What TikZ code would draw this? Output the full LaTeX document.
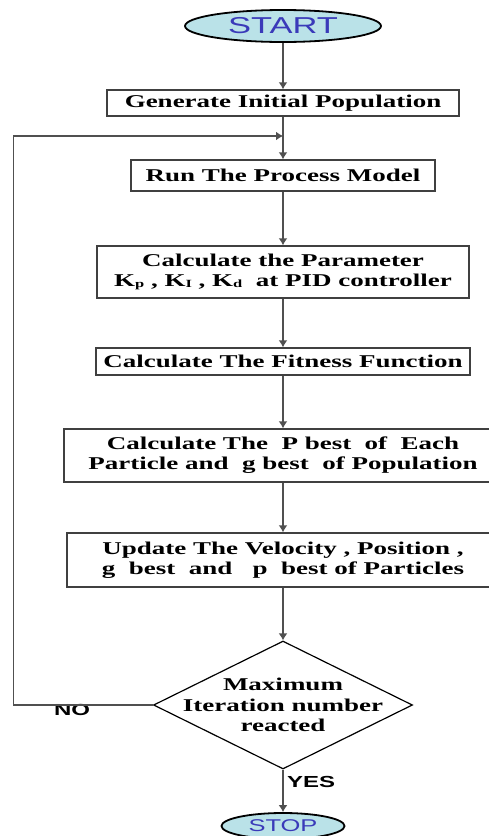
\documentclass[tikz,border=0pt]{standalone}
\usepackage{fontspec}
\usepackage{tikz}
\usetikzlibrary{shapes.geometric, arrows.meta}
\setmainfont{Liberation Serif}[FakeStretch=1.5]
\newfontfamily\headfont{Liberation Sans}[FakeStretch=1.5]
\definecolor{tBlue}{RGB}{58,58,185}
\definecolor{tFill}{RGB}{186,226,232}
\definecolor{lGray}{RGB}{80,80,80}
\newcommand{\ksub}[1]{\raisebox{-1pt}{\fontsize{11}{11}\selectfont #1}}
\tikzstyle{proc}   = [rectangle, draw=black!75, line width=1.4pt, align=center,
font=\fontsize{18}{20}\selectfont\bfseries, inner sep=2pt]
\tikzstyle{term}   = [ellipse, draw=black, line width=1.8pt, fill=tFill, text=tBlue,
inner sep=0pt]
\tikzstyle{decide} = [diamond, draw=black, line width=1.2pt, inner sep=0pt,
minimum width=259pt, minimum height=128pt]
\tikzstyle{answer} = [font=\headfont\fontsize{16}{16}\selectfont\bfseries]
\tikzstyle{arrow}  = [-{Latex[length=7pt, width=9pt]}, draw=lGray, line width=1.4pt]

\begin{document}
\begin{tikzpicture}[node distance=60pt]
      \useasboundingbox (0,0) rectangle (489pt,-836pt);
      \node(Start) [term, minimum width=196pt, minimum height=32pt,
        font=\headfont\fontsize{23}{23}\selectfont] at (283pt,-26pt) {START};

      \node(Gen) [proc, minimum width=352pt, minimum height=26pt, yshift=-17pt, below of = Start]
        {Generate Initial Population};
      \node(Run) [proc, minimum width=304pt, minimum height=31pt, yshift=-12.5pt, below of = Gen]
        {Run The Process Model};
      \node(Par) [proc, minimum width=372pt, minimum height=52pt, yshift=-36.5pt, below of = Run]
        {Calculate the Parameter\\K\ksub{p} , K\ksub{I} , K\ksub{d}~ at PID controller};
      \node(Fit) [proc, minimum width=374pt, minimum height=27pt, yshift=-29.5pt, below of = Par]
        {Calculate The Fitness Function};
      \node(Best)[proc, minimum width=438pt, minimum height=53pt, yshift=-34pt, below of = Fit]
        {Calculate The~ P best~ of~ Each\\Particle and~ g best~ of Population};
      \node(Upd) [proc, minimum width=432pt, minimum height=54pt, yshift=-44.5pt, below of = Best]
        {Update The Velocity , Position ,\\g~ best~ and~~ p~ best of Particles};

      \node(Dec) [decide, yshift=-85pt, below of = Upd,
        label={[align=center, font=\fontsize{18}{20.5}\selectfont\bfseries]center:Maximum\\Iteration number\\reacted}] {};

      \node(Stop)[term, minimum width=123pt, minimum height=26pt, yshift=-61pt, below of = Dec,
        font=\headfont\fontsize{17}{17}\selectfont] {STOP};

      \node(No)  [answer] at (72pt,-710pt) {NO};
      \coordinate (Join) at (283pt,-136pt);

      \draw [arrow] (Start) -- (Gen);
      \draw [arrow] (Gen)   -- (Run);
      \draw [arrow] (Run)   -- (Par);
      \draw [arrow] (Par)   -- (Fit);
      \draw [arrow] (Fit)   -- (Best);
      \draw [arrow] (Best)  -- (Upd);
      \draw [arrow] (Upd)   -- (Dec);
      \draw [arrow] (Dec)   -- node[answer, right, pos=0.3]{YES} (Stop);
      \draw [arrow] (Dec.west) -- ++(-139.5pt,0) |- (Join);
    \end{tikzpicture}
\end{document}
